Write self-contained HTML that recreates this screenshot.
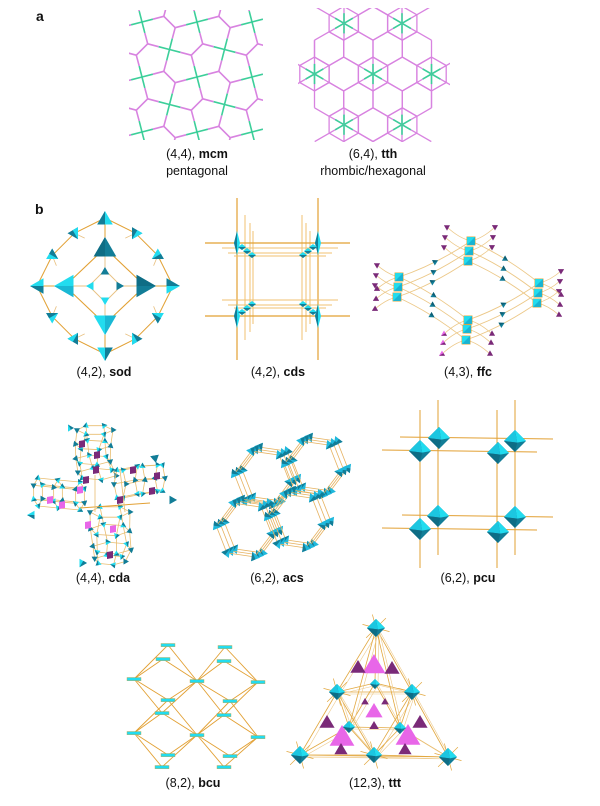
<!DOCTYPE html>
<html><head><meta charset="utf-8"><style>
html,body{margin:0;padding:0;background:#fff;}
svg{display:block}
text{font-family:"Liberation Sans",sans-serif;fill:#111}
</style></head><body>
<svg id="s" width="600" height="806" viewBox="0 0 600 806" xmlns="http://www.w3.org/2000/svg">
<defs>
<clipPath id="cm"><rect x="129" y="10" width="134" height="130"/></clipPath>
<clipPath id="ct"><rect x="298" y="8" width="152" height="134"/></clipPath>
</defs>
<g id="g"></g>
<text x="36" y="21" font-size="14" font-weight="bold">a</text>
<text x="35" y="214" font-size="14" font-weight="bold">b</text>
<g font-size="12.5" text-anchor="middle">
<text x="197" y="158">(4,4), <tspan font-weight="bold">mcm</tspan></text>
<text x="197" y="175">pentagonal</text>
<text x="373" y="158">(6,4), <tspan font-weight="bold">tth</tspan></text>
<text x="373" y="175">rhombic/hexagonal</text>
<text x="104" y="376">(4,2), <tspan font-weight="bold">sod</tspan></text>
<text x="278" y="376">(4,2), <tspan font-weight="bold">cds</tspan></text>
<text x="468" y="376">(4,3), <tspan font-weight="bold">ffc</tspan></text>
<text x="103" y="582">(4,4), <tspan font-weight="bold">cda</tspan></text>
<text x="277" y="582">(6,2), <tspan font-weight="bold">acs</tspan></text>
<text x="468" y="582">(6,2), <tspan font-weight="bold">pcu</tspan></text>
<text x="193" y="787">(8,2), <tspan font-weight="bold">bcu</tspan></text>
<text x="375" y="787">(12,3), <tspan font-weight="bold">ttt</tspan></text>
</g>
</svg>
<script>
var h='';
var OR='#e2a033',CY='#22dcef',TE='#127d97',PU='#7a2a78',MG='#e866e8',GR='#3ccf9a',PK='#d883e0';
function L(a,b,c,d,col,w){h+='<line x1="'+a.toFixed(1)+'" y1="'+b.toFixed(1)+'" x2="'+c.toFixed(1)+'" y2="'+d.toFixed(1)+'" stroke="'+(col||OR)+'" stroke-width="'+(w||0.9)+'"/>';}
function P(pts,f){h+='<polygon points="'+pts.map(function(p){return p[0].toFixed(1)+','+p[1].toFixed(1)}).join(' ')+'" fill="'+f+'"/>';}
function Q(a,b,cx,cy,c,d,col,w){h+='<path d="M'+a+' '+b+' Q'+cx+' '+cy+' '+c+' '+d+'" fill="none" stroke="'+(col||OR)+'" stroke-width="'+(w||0.8)+'"/>';}
function tet(cx,cy,s,ang,c1,c2){var r=Math.PI/180,v=[];for(var k=0;k<3;k++){var a=(ang+k*120)*r;v.push([cx+s*Math.cos(a),cy+s*Math.sin(a)]);}
 P(v,c1||CY);var m=[(v[1][0]+v[2][0])/2,(v[1][1]+v[2][1])/2];P([v[0],m,v[2]],c2||TE);}
function oct(cx,cy,r){var t=[cx,cy-r],ri=[cx+r,cy],b=[cx,cy+r],l=[cx-r,cy],c=[cx+r*0.2,cy+r*0.15];
 P([t,ri,b,l],TE);P([t,ri,c],CY);P([t,c,l],'#1cc6e0');P([l,c,b],'#0e6d85');}
function sq(cx,cy,s){P([[cx-s,cy-s],[cx+s,cy-s],[cx+s,cy+s],[cx-s,cy+s]],CY);P([[cx+s,cy-s],[cx+s,cy+s],[cx-s,cy+s]],'#18b4d4');h+='<rect x="'+(cx-s)+'" y="'+(cy-s)+'" width="'+2*s+'" height="'+2*s+'" fill="none" stroke="'+OR+'" stroke-width="0.5"/>';}

/* mcm Cairo */
h+='<g clip-path="url(#cm)">';
(function(){var O=[142,22],u=[27.5,27.5],v=[27.5,-27.5],n=Math.hypot(27.5,27.5),uh=[u[0]/n,u[1]/n],vh=[v[0]/n,v[1]/n],d=8;
function Pt(a,b){return [O[0]+a*u[0]+b*v[0],O[1]+a*u[1]+b*v[1]];}
function E(p,q){var m=[(p[0]+q[0])/2,(p[1]+q[1])/2];L(p[0],p[1],m[0],m[1],GR,1.6);L(m[0],m[1],q[0],q[1],PK,1.6);}
for(var a=-4;a<7;a++)for(var b=-4;b<7;b++){var p0=Pt(a,b),c=[p0[0]+(u[0]+v[0])/2,p0[1]+(u[1]+v[1])/2],t=((a+b)%2+2)%2,q1,q2;
 if(t==0){q1=[c[0]+d*uh[0],c[1]+d*uh[1]];q2=[c[0]-d*uh[0],c[1]-d*uh[1]];E(Pt(a+1,b),q1);E(Pt(a+1,b+1),q1);E(Pt(a,b),q2);E(Pt(a,b+1),q2);}
 else{q1=[c[0]+d*vh[0],c[1]+d*vh[1]];q2=[c[0]-d*vh[0],c[1]-d*vh[1]];E(Pt(a,b+1),q1);E(Pt(a+1,b+1),q1);E(Pt(a,b),q2);E(Pt(a+1,b),q2);}
 L(q1[0],q1[1],q2[0],q2[1],PK,1.6);}})();
h+='</g>';

/* tth */
h+='<g clip-path="url(#ct)">';
(function(){var l=16.9,w=l*Math.sqrt(3),C=[373,74],r=Math.PI/180;
var stars=[[373,74],[431.5,74],[314.5,74],[402,23.3],[344,23.3],[402,124.7],[344,124.7]];
for(var i=-6;i<7;i++)for(var j=-4;j<5;j++){var x=C[0]+w*(i+j/2),y=C[1]+1.5*l*j;if(Math.hypot(x-C[0],y-C[1])>63)continue;
 for(var k=0;k<6;k++){var a1=(30+60*k)*r,a2=(90+60*k)*r;L(x+l*Math.cos(a1),y+l*Math.sin(a1),x+l*Math.cos(a2),y+l*Math.sin(a2),PK,1.3);}}
stars.forEach(function(s){var o=(s[0]!=C[0]||s[1]!=C[1]);for(var k=0;k<6;k++){var a=(30+60*k)*r,c=Math.cos(a),sn=Math.sin(a);
 var out=o&&((c*(s[0]-C[0])+sn*(s[1]-C[1]))>0);var len=out?2*l:l;
 L(s[0],s[1],s[0]+len*c,s[1]+len*sn,PK,1.3);L(s[0],s[1],s[0]+0.6*l*c,s[1]+0.6*l*sn,GR,1.6);}});})();
h+='</g>';

/* sod */
(function(){var cx=105,cy=286,ring=[];
for(var i=0;i<12;i++){var a=(-90+i*30)*Math.PI/180,R=(i%3==0)?68:61;ring.push([cx+R*Math.cos(a),cy+R*Math.sin(a)]);}
for(i=0;i<12;i++){var a=ring[i],b=ring[(i+1)%12];L(a[0],a[1],b[0],b[1],OR,1);}
var big=[[105,248],[145,286],[105,324],[65,286]],sm=[[105,270],[121,286],[105,302],[89,286]];
for(i=0;i<4;i++){var a=big[i],b=big[(i+1)%4];L(a[0],a[1],b[0],b[1],OR,1.1);a=sm[i];b=sm[(i+1)%4];L(a[0],a[1],b[0],b[1],'#e8c080',0.9);L(big[i][0],big[i][1],sm[i][0],sm[i][1],'#e8c080',0.9);L(big[i][0],big[i][1],ring[i*3][0],ring[i*3][1],OR,1);}
[[1,0],[2,1],[4,1],[5,2],[7,2],[8,3],[10,3],[11,0]].forEach(function(p){var a=ring[p[0]],b=big[p[1]];L(a[0],a[1],(a[0]*2+b[0])/3,(a[1]*2+b[1])/3,'#e8c080',0.8);});
tet(105,220,9,-90,CY,TE);tet(105,352,9,90,CY,TE);tet(39,286,9,180,CY,TE);tet(171,286,9,0,CY,TE);
[1,2,4,5,7,8,10,11].forEach(function(i){var p=ring[i];var ang=Math.atan2(p[1]-cy,p[0]-cx)*180/Math.PI;tet(p[0],p[1],7,ang+180,i%2?TE:CY,i%2?CY:TE);});
tet(105,250,13,-90,TE,'#0e6d85');tet(143,286,13,0,TE,'#0e6d85');tet(105,322,13,90,CY,'#1ab8d4');tet(67,286,13,180,CY,'#1ab8d4');
tet(105,272,5,-90,TE,TE);tet(119,286,5,0,TE,TE);tet(105,300,5,90,CY,CY);tet(91,286,5,180,CY,CY);})();

/* cds */
(function(){[237,318].forEach(function(x){L(x,198,x,360,OR,1.2);});
[245,250,253,302,306,310].forEach(function(x,i){L(x,215+i%3*8,x,340-i%3*8,'#f0c070',1);});
[243,316].forEach(function(y){L(205,y,350,y,OR,1.2);});
[248,253,256,300,305,308].forEach(function(y,i){L(222+i%3*6,y,338-i%3*6,y,'#f0c070',1);});
[[237,243,1],[318,243,-1],[237,316,1],[318,316,-1]].forEach(function(c){var x=c[0],y=c[1];
 P([[x,y-12],[x+3,y],[x,y+12],[x-3,y]],CY);P([[x,y-12],[x,y+12],[x-3,y]],TE);
 var dy=(y<280)?1:-1;for(var k=1;k<4;k++){var px=x+c[2]*k*5,py=y+dy*k*4;P([[px-4,py],[px,py-3],[px+4,py],[px,py+3]],CY);P([[px-4,py],[px,py+3],[px+4,py]],TE);}});})();

/* ffc */
(function(){var Lg=[[399,277],[398,287],[397,297]],T=[[471,241],[469,251],[468,261]],R=[[539,283],[538,293],[537,303]],B=[[468,320],[467,329],[466,340]];
function con(A,Bb,bend){for(var i=0;i<3;i++){var a=A[i],b=Bb[i],mx=(a[0]+b[0])/2,my=(a[1]+b[1])/2+bend;Q(a[0],a[1],mx,my,b[0],b[1],'#ecc888',0.9);tet(mx,my-bend/2,3.5,Math.atan2(b[1]-a[1],b[0]-a[0])*57.3,TE,'#0d5f75');}}
con(Lg,T,6);con(Lg,B,-6);con(T,R,-6);con(B,R,6);
function stub(g,dx,dy,col){g.forEach(function(p){var x=p[0]+dx,y=p[1]+dy;Q(p[0],p[1],p[0]+dx*0.5,p[1]+dy*0.2,x,y,'#ecc888',0.8);tet(x,y,3.5,Math.atan2(dy,dx)*57.3,col,PU);});}
stub(Lg,-22,-12,PU);stub(Lg,-22,12,PU);stub(T,-24,-14,PU);stub(T,24,-14,PU);stub(B,-24,14,MG);stub(B,24,14,PU);stub(R,22,-12,PU);stub(R,22,12,PU);
[Lg,T,R,B].forEach(function(g){g.forEach(function(p){sq(p[0],p[1],4.2);});});})();

/* cda */
(function(){function ring(cx,cy,rx,ry,n,ph){var pts=[];for(var i=0;i<n;i++){var a=ph+i*2*Math.PI/n;pts.push([cx+rx*Math.cos(a),cy+ry*Math.sin(a)]);}return pts;}
function cage(rings){for(var r=0;r<rings.length;r++){var A=rings[r];for(var i=0;i<A.length;i++){var b=A[(i+1)%A.length];L(A[i][0],A[i][1],b[0],b[1],'#e8bd70',0.8);
  if(r+1<rings.length){var C=rings[r+1][i];L(A[i][0],A[i][1],C[0],C[1],'#e8bd70',0.8);}}}
 for(r=0;r<rings.length;r++)rings[r].forEach(function(p,i){tet(p[0],p[1],3.5,i*70+r*40,i%3==0?TE:CY,TE);});}
cage([ring(95,430,18,5,6,0),ring(93,445,18,5,6,0.2),ring(93,460,18,5,6,0.3),ring(97,474,20,6,6,0.3)]);
cage([ring(38,492,5,14,6,0.5),ring(58,494,5,14,6,0.5),ring(80,496,5,14,6,0.5)]);
cage([ring(120,484,6,16,6,0),ring(140,480,5,16,6,0),ring(160,478,5,15,6,0)]);
cage([ring(110,512,20,6,6,0),ring(110,530,20,6,6,0.2),ring(112,548,20,6,6,0.3),ring(110,560,16,5,6,0.3)]);
L(80,508,150,503,OR,1);L(95,475,95,512,'#e8bd70',0.8);L(120,470,125,512,'#e8bd70',0.8);
[[82,444,PU],[97,455,PU],[96,470,PU],[133,470,PU],[157,476,PU],[152,491,PU],[50,500,MG],[62,505,MG],[80,490,MG],[113,529,MG],[110,555,PU],[88,525,MG],[120,500,PU],[86,480,PU]].forEach(function(q){P([[q[0]-3,q[1]-3],[q[0]+3,q[1]-4],[q[0]+3,q[1]+3],[q[0]-3,q[1]+4]],q[2]);});
tet(32,515,5,180,CY,TE);tet(82,563,5,120,CY,TE);tet(172,500,5,0,TE,TE);tet(155,458,5,-40,TE,TE);tet(70,428,4,-120,TE,CY);})();

/* acs */
(function(){var H=[[262,478],[312,468],[244,530],[295,521]];
H.forEach(function(c){for(var k=2;k>=0;k--){var pts=[];for(var i=0;i<6;i++){var a=(i*60+8)*Math.PI/180;pts.push([c[0]+k*4+28*Math.cos(a),c[1]-k*2+29*Math.sin(a)]);}
 for(i=0;i<6;i++){var b=pts[(i+1)%6];L(pts[i][0],pts[i][1],b[0],b[1],'#e6b260',0.8);}
 pts.forEach(function(p,i){tet(p[0],p[1],5.5,i*60+8+180,'#1fb8dc',TE);});}});})();

/* pcu */
(function(){[420,438,497,515].forEach(function(x,i){L(x,i%2?400:410,x,i%2?555:568,OR,1);});
[[437,400,553],[450,382,537],[515,402,553],[528,382,537]].forEach(function(r){L(r[1],r[0],r[2],r[0]+2,OR,1);});
[[439,438],[515,441],[420,451],[498,453],[438,516],[515,517],[420,529],[498,532]].forEach(function(p){oct(p[0],p[1],11);});})();

/* bcu */
(function(){var A=[[168,645],[225,647],[134,679],[197,681],[258,682],[168,700],[230,701],[134,733],[197,735],[258,737],[168,755],[230,756]],B=[[163,659],[224,661],[162,713],[224,715],[162,767],[224,767]];
var all=A.concat(B),nodes=[[134,679],[197,681],[258,682],[134,733],[197,735],[258,737]];
nodes.forEach(function(n){all.forEach(function(p){var dx=Math.abs(p[0]-n[0]),dy=Math.abs(p[1]-n[1]);if(dx>20&&dx<40&&dy>10&&dy<60)L(n[0],n[1],p[0],p[1],'#e2a033',0.9);});});
all.forEach(function(p){h+='<rect x="'+(p[0]-7)+'" y="'+(p[1]-1.5)+'" width="14" height="3.2" fill="'+CY+'" stroke="#c9a040" stroke-width="0.4"/>';});})();

/* ttt */
(function(){var N={T:[376,628],ML:[337,692],MR:[412,692],LB:[300,755],BC:[374,755],RB:[448,757],IT:[375,683],IL:[349,727],IR:[400,728]};
[['T','ML'],['T','MR'],['T','IT'],['ML','MR'],['ML','LB'],['ML','BC'],['MR','RB'],['MR','BC'],['LB','BC'],['BC','RB'],['IT','IL'],['IT','IR'],['IL','IR'],['ML','IL'],['MR','IR'],['IT','ML'],['IT','MR'],['LB','IL'],['RB','IR'],['BC','IL'],['BC','IR'],['LB','RB'],['T','IL'],['T','IR']].forEach(function(e){var a=N[e[0]],b=N[e[1]];L(a[0],a[1],b[0],b[1],'#e2a840',0.8);L(a[0]+3,a[1]+2,b[0]+3,b[1]+2,'#edc98a',0.6);});
['T','LB','RB','BC','ML','MR'].forEach(function(k){var p=N[k];for(var i=0;i<6;i++){var a=i*60+15;L(p[0],p[1],p[0]+14*Math.cos(a/57.3),p[1]+14*Math.sin(a/57.3),'#e2a840',0.7);}});
function tri(cx,cy,s,col,up){var d=up?-1:1;P([[cx,cy+d*s],[cx+s*0.95,cy-d*s*0.6],[cx-s*0.95,cy-d*s*0.6]],col);}
tri(374,666,12,MG,true);tri(342,738,13,MG,true);tri(408,737,13,MG,true);tri(374,712,9,MG,true);
tri(358,668,8,PU,true);tri(392,669,8,PU,true);tri(327,723,8,PU,true);tri(420,723,8,PU,true);tri(341,750,7,PU,true);tri(405,750,7,PU,true);tri(374,726,5,PU,true);tri(365,702,4,PU,true);tri(385,702,4,PU,true);
oct(376,628,9);oct(337,692,8);oct(412,692,8);oct(300,755,9);oct(374,755,8);oct(448,757,9);oct(375,684,5);oct(349,727,6);oct(400,728,6);})();

document.getElementById('g').innerHTML=h;
</script>
</body></html>
